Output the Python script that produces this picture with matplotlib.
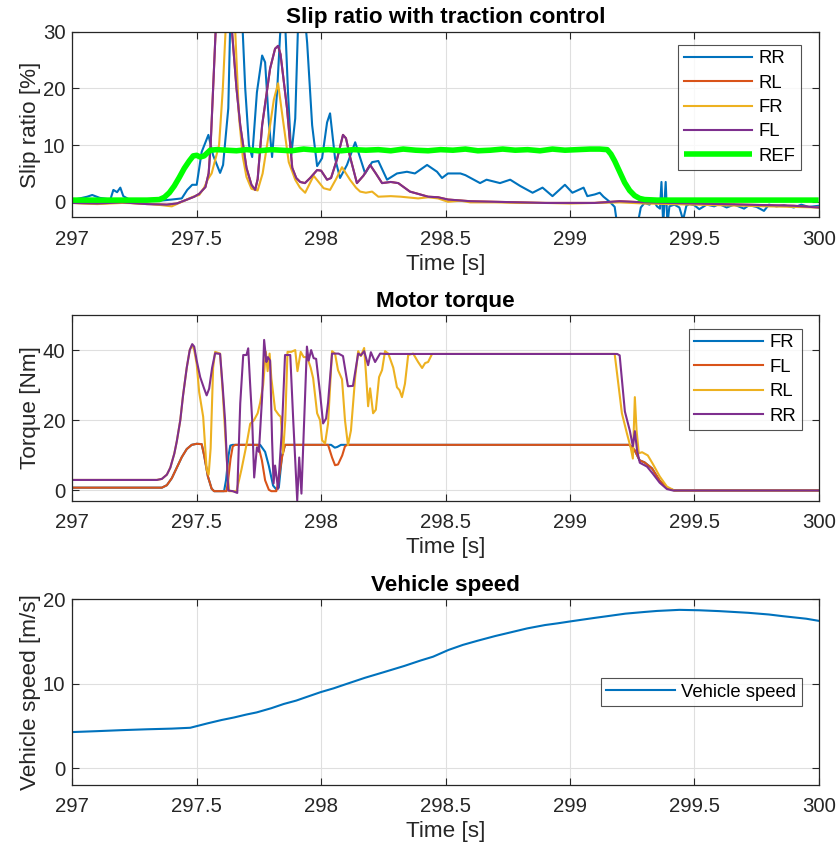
import numpy as np
import matplotlib
matplotlib.use("Agg")
import matplotlib.pyplot as plt

plt.rcParams['font.family'] = ['Liberation Sans', 'DejaVu Sans']

C_BLUE = '#0072BD'
C_ORANGE = '#D95319'
C_YELLOW = '#EDB120'
C_PURPLE = '#7E2F8E'
C_GREEN = '#00FF00'
C_AX = '#262626'

# ---------------- data: slip ratio [%] ----------------
rr_slip = [(297.0, 0.3), (297.03, 0.6), (297.06, 0.9), (297.08, 1.2), (297.11, 0.7), (297.153, 0.4),
           (297.165, 2.1), (297.18, 1.7), (297.193, 2.5), (297.205, 1.0), (297.233, 0.3), (297.28, 0.1),
           (297.353, 0.2), (297.40, 0.4), (297.44, 0.6), (297.462, 2.1), (297.482, 3.0), (297.50, 3.0),
           (297.52, 8.8), (297.547, 11.8), (297.566, 8.2), (297.594, 5.1), (297.606, 6.5), (297.627, 16.5),
           (297.635, 32), (297.66, 40), (297.683, 32), (297.695, 20), (297.71, 10), (297.723, 7.9),
           (297.742, 19.3), (297.763, 25.8), (297.775, 24.6), (297.79, 14), (297.803, 7.9), (297.823, 19.3),
           (297.835, 29.3), (297.845, 35), (297.857, 30), (297.867, 19.3), (297.88, 8.2), (297.896, 14.7),
           (297.91, 35), (297.93, 35), (297.944, 28), (297.964, 13.5), (297.984, 6.3), (298.004, 7.7),
           (298.024, 14), (298.036, 15.6), (298.056, 7.7), (298.076, 4.2), (298.104, 6.5), (298.137, 10.5),
           (298.177, 5.0), (298.205, 7.0), (298.23, 7.2), (298.265, 3.9), (298.305, 5.0), (298.345, 5.3),
           (298.377, 5.0), (298.426, 6.5), (298.466, 5.3), (298.486, 4.2), (298.51, 5.0), (298.56, 5.0),
           (298.58, 4.7), (298.639, 3.3), (298.665, 3.9), (298.719, 3.3), (298.76, 3.9), (298.8, 2.8),
           (298.85, 1.6), (298.89, 2.5), (298.93, 1.0), (298.98, 3.0), (299.01, 1.6), (299.055, 2.5),
           (299.07, 1.0), (299.1, 1.3), (299.12, 1.6), (299.135, 0.9), (299.16, 0.0), (299.18, -0.9),
           (299.19, -4), (299.21, -6), (299.25, -6), (299.272, -4), (299.285, -1.0), (299.30, -0.2),
           (299.32, -0.5), (299.335, 0.3), (299.35, -0.8), (299.362, -1.2), (299.368, 3.5), (299.375, -4),
           (299.385, 3.5), (299.392, -4), (299.40, -0.8), (299.42, -0.5), (299.44, -1.0), (299.455, -3.2),
           (299.468, -0.7), (299.48, -0.4), (299.5, -0.6), (299.52, -1.3), (299.55, -0.5), (299.58, -0.8),
           (299.6, -0.4), (299.63, -1.0), (299.66, -0.5), (299.7, -1.2), (299.72, -0.6), (299.75, -0.9),
           (299.78, -1.6), (299.8, -0.5), (299.83, -0.8), (299.86, -0.6), (299.9, -1.0), (299.93, -0.5),
           (299.96, -0.9), (300.0, -0.7)]

fl_slip = [(297.0, -0.2), (297.1, -0.3), (297.2, -0.1), (297.3, -0.4), (297.38, -0.5), (297.42, -0.3),
           (297.45, 0.2), (297.49, 0.9), (297.51, 1.4), (297.535, 2.6), (297.548, 5), (297.556, 10),
           (297.566, 20), (297.578, 32), (297.59, 45), (297.63, 45), (297.642, 30), (297.66, 20),
           (297.675, 13.5), (297.70, 6), (297.72, 3), (297.735, 2.1), (297.745, 4), (297.763, 13.5),
           (297.795, 23.5), (297.815, 27), (297.827, 27.5), (297.837, 26), (297.863, 16.5), (297.884, 6),
           (297.9, 4.2), (297.916, 3.5), (297.935, 3.3), (297.956, 4.2), (297.984, 5.6), (298.0, 5.5),
           (298.024, 3.9), (298.04, 4.2), (298.064, 7.5), (298.088, 11.8), (298.1, 11.2), (298.116, 8),
           (298.144, 3.3), (298.17, 4.6), (298.197, 6.5), (298.22, 5), (298.245, 3.3), (298.28, 3.5),
           (298.31, 3.3), (298.357, 1.8), (298.39, 1.4), (298.43, 0.9), (298.47, 0.8), (298.51, 0.4),
           (298.6, 0.1), (298.7, 0.0), (298.8, -0.1), (298.9, -0.2), (299.0, -0.2), (299.1, -0.2),
           (299.2, 0.1), (299.3, -0.1), (299.4, -0.2), (299.5, -0.3), (299.6, -0.4), (299.7, -0.5),
           (299.8, -0.6), (299.9, -0.7), (300.0, -1.0)]

# RL slip is hidden beneath the FL trace in the picture
rl_slip = list(fl_slip)

fr_slip = [(297.0, -0.2), (297.1, -0.4), (297.2, -0.2), (297.3, -0.3), (297.36, -0.6), (297.40, -0.8),
           (297.43, -0.2), (297.46, 0.4), (297.486, 0.9), (297.51, 1.2), (297.53, 2.5), (297.545, 4.0),
           (297.56, 5), (297.59, 10), (297.605, 20), (297.618, 32), (297.625, 42), (297.645, 42),
           (297.655, 30), (297.67, 15), (297.685, 8), (297.70, 4.4), (297.72, 2.3), (297.745, 2.0),
           (297.765, 5), (297.79, 12), (297.81, 18), (297.827, 20.9), (297.845, 15), (297.87, 7),
           (297.896, 3.9), (297.915, 2.5), (297.936, 1.6), (297.97, 4.6), (297.99, 3.5), (298.01, 2.4),
           (298.036, 2.1), (298.06, 4), (298.084, 6.1), (298.1, 5), (298.116, 3.9), (298.14, 2.5),
           (298.157, 1.8), (298.18, 1.6), (298.205, 1.8), (298.23, 0.9), (298.28, 1.0), (298.32, 0.9),
           (298.39, 0.6), (298.43, 0.8), (298.47, 0.6), (298.51, 0.0), (298.56, 0.2), (298.6, -0.1),
           (298.7, -0.1), (298.8, -0.2), (298.9, -0.2), (299.0, -0.3), (299.1, -0.2), (299.2, -0.1),
           (299.3, -0.3), (299.4, -0.4), (299.5, -0.5), (299.6, -0.6), (299.7, -0.7), (299.8, -0.8),
           (299.9, -0.9), (300.0, -1.0)]

ref_slip = [(297.0, 0.3), (297.3, 0.3), (297.35, 0.4), (297.37, 0.8), (297.39, 1.6), (297.41, 2.8),
            (297.43, 4.3), (297.45, 5.9), (297.47, 7.2), (297.486, 8.1), (297.50, 8.2), (297.514, 7.9),
            (297.53, 8.1), (297.554, 9.1), (297.58, 9.2), (297.62, 9.1), (297.66, 9.0), (297.70, 9.2),
            (297.75, 9.0), (297.80, 9.2), (297.84, 9.1), (297.88, 9.0), (297.93, 9.3), (297.98, 9.1),
            (298.03, 9.2), (298.08, 9.0), (298.13, 9.2), (298.18, 9.1), (298.23, 9.2), (298.28, 9.0),
            (298.33, 9.3), (298.38, 9.1), (298.43, 9.0), (298.48, 9.2), (298.53, 9.1), (298.58, 9.3),
            (298.63, 9.0), (298.68, 9.1), (298.73, 9.3), (298.78, 9.1), (298.83, 9.2), (298.88, 9.0),
            (298.93, 9.3), (298.98, 9.1), (299.03, 9.2), (299.08, 9.3), (299.12, 9.3), (299.15, 9.2),
            (299.165, 8.4), (299.18, 7.2), (299.20, 5.3), (299.22, 3.4), (299.24, 2.0), (299.26, 1.1),
            (299.28, 0.6), (299.30, 0.4), (299.35, 0.3), (300.0, 0.3)]

# ---------------- data: motor torque [Nm] ----------------
fr_torque = [(297.0, 0.8), (297.36, 0.8), (297.38, 1.5), (297.40, 3.5), (297.42, 6.5), (297.44, 9.5),
             (297.46, 11.8), (297.48, 13.0), (297.50, 13.3), (297.52, 13.2), (297.53, 10), (297.545, 4),
             (297.56, 0.5), (297.57, -0.2), (297.61, -0.2), (297.618, 3), (297.628, 10), (297.635, 12.8),
             (297.645, 13.0), (297.755, 13.0), (297.775, 11), (297.79, 7), (297.807, 1.4), (297.82, 0.3),
             (297.83, 0.8), (297.843, 10), (297.855, 13), (298.04, 13), (298.055, 12.2), (298.065, 12.4),
             (298.08, 13), (299.24, 13), (299.26, 11.5), (299.28, 8.6), (299.30, 8), (299.33, 6.3),
             (299.36, 2.9), (299.39, 0.7), (299.42, 0.0), (300.0, 0.0)]

fl_torque = [(297.0, 0.8), (297.36, 0.8), (297.38, 1.5), (297.40, 3.5), (297.42, 6.5), (297.44, 9.5),
             (297.46, 11.8), (297.48, 13.0), (297.50, 13.3), (297.52, 13.2), (297.53, 10), (297.545, 4),
             (297.56, 0.5), (297.57, -0.2), (297.62, -0.2), (297.628, 4), (297.636, 9), (297.645, 12.6),
             (297.655, 13.0), (297.747, 13), (297.762, 8.6), (297.775, 2.9), (297.79, 0.2), (297.80, -0.2),
             (297.82, -0.2), (297.827, 2), (297.843, 9.5), (297.855, 13), (298.028, 13), (298.044, 9.4),
             (298.056, 7.2), (298.068, 7.4), (298.085, 10), (298.096, 12.6), (298.105, 13), (299.24, 13),
             (299.26, 11.5), (299.28, 8.6), (299.30, 8), (299.33, 6.3), (299.36, 2.9), (299.39, 0.7),
             (299.42, 0.0), (300.0, 0.0)]

rl_torque = [(297.0, 3), (297.34, 3), (297.36, 3.3), (297.38, 4.5), (297.394, 6.5), (297.41, 10.5),
             (297.42, 14), (297.434, 20), (297.445, 27), (297.46, 35), (297.472, 40), (297.482, 41.5),
             (297.49, 40), (297.50, 36), (297.51, 28), (297.526, 21), (297.54, 6), (297.548, 4.5),
             (297.556, 12), (297.566, 35), (297.574, 39.5), (297.594, 39), (297.605, 27.6), (297.618, 12),
             (297.63, -0.2), (297.66, -0.2), (297.68, 6), (297.70, 13), (297.715, 19), (297.73, 20),
             (297.745, 22), (297.755, 25), (297.767, 30), (297.778, 39.5), (297.785, 34), (297.793, 39),
             (297.80, 32), (297.815, 23), (297.83, 21.5), (297.838, 21), (297.847, 10.6), (297.856, 20),
             (297.865, 39.5), (297.88, 39.5), (297.896, 40), (297.905, 34), (297.918, 39.5), (297.93, 38),
             (297.944, 38), (297.958, 35), (297.968, 32), (297.984, 22), (297.996, 20), (298.004, 14.3),
             (298.016, 13.4), (298.028, 19.1), (298.044, 39.7), (298.056, 39), (298.068, 34.3),
             (298.084, 31.7), (298.096, 20), (298.108, 12.9), (298.12, 17.1), (298.137, 32.3),
             (298.149, 39.7), (298.16, 38.3), (298.173, 40.6), (298.18, 33.7), (298.189, 24),
             (298.197, 29.1), (298.209, 22), (298.22, 23), (298.233, 32.3), (298.245, 34.3),
             (298.257, 39.7), (298.27, 39), (298.29, 35), (298.305, 29.4), (298.315, 28.6),
             (298.325, 26.6), (298.337, 30.4), (298.35, 38.6), (298.37, 39), (298.39, 36.6),
             (298.406, 34.9), (298.418, 36.3), (298.43, 36.6), (298.446, 38.9), (298.46, 38.9),
             (299.18, 38.9), (299.209, 22), (299.229, 16.3), (299.245, 12), (299.253, 9.1),
             (299.261, 26.6), (299.268, 17.1), (299.277, 10.6), (299.29, 10.9), (299.313, 10.0),
             (299.333, 7.6), (299.361, 4.0), (299.39, 1.1), (299.42, 0.0), (300.0, 0.0)]

rr_torque = [(297.0, 3), (297.34, 3), (297.36, 3.3), (297.38, 4.5), (297.394, 6.5), (297.41, 10.5),
             (297.42, 14), (297.434, 20), (297.445, 27), (297.46, 35), (297.472, 40), (297.482, 41.7),
             (297.49, 41), (297.50, 37), (297.514, 32.3), (297.53, 29), (297.54, 27.1), (297.55, 29),
             (297.562, 35), (297.574, 39.1), (297.594, 38.9), (297.604, 30), (297.614, 20), (297.627, 0),
             (297.645, -0.2), (297.663, -0.7), (297.675, 24.8), (297.687, 38.6), (297.70, 38.6),
             (297.707, 40.5), (297.715, 30), (297.723, 20), (297.731, 3.7), (297.742, 12.3), (297.75, 11),
             (297.763, 26.7), (297.771, 42.9), (297.78, 36.6), (297.786, 38), (297.795, 37), (297.803, 14.3),
             (297.809, 2), (297.815, 7.1), (297.827, 0.5), (297.843, 18), (297.855, 38.6), (297.876, 38.6),
             (297.888, 20), (297.904, -2.9), (297.912, 9.4), (297.921, -0.9), (297.932, 20), (297.943, 41),
             (297.95, 37), (297.96, 40), (297.97, 37.7), (297.98, 37.5), (297.996, 27.6), (298.008, 19.1),
             (298.02, 20.5), (298.028, 25), (298.044, 39), (298.07, 39), (298.088, 38.3), (298.108, 29.7),
             (298.128, 29.8), (298.149, 39), (298.16, 38.5), (298.173, 39.7), (298.189, 35.7), (298.2, 39.4),
             (298.217, 36.6), (298.237, 39), (298.26, 38.9), (299.19, 38.9), (299.20, 38.5), (299.221, 22.5),
             (299.241, 17), (299.253, 12.6), (299.261, 16.9), (299.27, 11.4), (299.281, 7.9), (299.31, 6.8),
             (299.333, 4.8), (299.361, 2.2), (299.39, 0.4), (299.414, 0.0), (300.0, 0.0)]

# ---------------- data: vehicle speed [m/s] ----------------
speed = [(297.0, 4.27), (297.1, 4.38), (297.2, 4.5), (297.3, 4.6), (297.4, 4.68), (297.474, 4.78),
         (297.543, 5.3), (297.6, 5.7), (297.65, 6.0), (297.7, 6.35), (297.741, 6.6), (297.8, 7.1),
         (297.85, 7.6), (297.9, 8.0), (297.939, 8.4), (297.998, 9.0), (298.05, 9.45), (298.1, 9.95),
         (298.176, 10.7), (298.25, 11.35), (298.334, 12.1), (298.4, 12.75), (298.45, 13.2),
         (298.512, 14.0), (298.57, 14.6), (298.63, 15.1), (298.7, 15.65), (298.75, 16.0),
         (298.828, 16.55), (298.9, 16.95), (298.95, 17.15), (299.006, 17.4), (299.1, 17.8),
         (299.15, 18.0), (299.223, 18.3), (299.3, 18.5), (299.35, 18.62), (299.44, 18.75),
         (299.52, 18.7), (299.6, 18.6), (299.717, 18.4), (299.8, 18.2), (299.856, 18.0),
         (299.95, 17.7), (300.0, 17.45)]

xticks = [297, 297.5, 298, 298.5, 299, 299.5, 300]
xticklabels = ['297', '297.5', '298', '298.5', '299', '299.5', '300']


def xy(pairs):
    a = np.array(pairs, dtype=float)
    return a[:, 0], a[:, 1]


W, H = 839, 850
fig = plt.figure(figsize=(W / 100, H / 100), dpi=100)

left = 72.3 / W
width = 746.4 / W
ax1 = fig.add_axes([left, (H - 217.4) / H, width, 185.7 / H])
ax2 = fig.add_axes([left, (H - 501.0) / H, width, 186.0 / H])
ax3 = fig.add_axes([left, (H - 785.0) / H, width, 185.7 / H])

TICK_FS = 14.7
LAB_FS = 16.2
LEG_FS = 13.3
LW = 1.5


def style(ax, ylim, yticks):
    ax.set_xlim(297, 300)
    ax.set_ylim(*ylim)
    ax.set_xticks(xticks)
    ax.set_xticklabels(xticklabels)
    ax.set_yticks(yticks)
    ax.grid(True, color='#dfdfdf', linewidth=0.8)
    ax.set_axisbelow(True)
    ax.tick_params(direction='in', top=True, right=True, length=5, width=0.8,
                   colors=C_AX, labelsize=TICK_FS)
    ax.tick_params(axis='x', pad=9)
    ax.tick_params(axis='y', pad=5)
    for s in ax.spines.values():
        s.set_color(C_AX)
        s.set_linewidth(0.9)
    ax.set_xlabel('Time [s]', fontsize=LAB_FS, color=C_AX, labelpad=3.5)


# --- slip ratio ---
for pairs, col, lab in [(rr_slip, C_BLUE, 'RR'), (rl_slip, C_ORANGE, 'RL'),
                        (fr_slip, C_YELLOW, 'FR'), (fl_slip, C_PURPLE, 'FL')]:
    t, v = xy(pairs)
    ax1.plot(t, v, color=col, lw=LW, label=lab)
t, v = xy(ref_slip)
ax1.plot(t, v, color=C_GREEN, lw=4.0, label='REF', solid_capstyle='butt')
style(ax1, (-2.75, 30), [0, 10, 20, 30])
ax1.set_ylabel('Slip ratio [%]', fontsize=LAB_FS, color=C_AX, labelpad=1.5)
ax1.set_title('Slip ratio with traction control', fontsize=LAB_FS, fontweight='bold',
              color='black', pad=6)

# --- motor torque ---
for pairs, col, lab in [(fr_torque, C_BLUE, 'FR'), (fl_torque, C_ORANGE, 'FL'),
                        (rl_torque, C_YELLOW, 'RL'), (rr_torque, C_PURPLE, 'RR')]:
    t, v = xy(pairs)
    ax2.plot(t, v, color=col, lw=LW, label=lab)
style(ax2, (-3, 50), [0, 20, 40])
ax2.set_ylabel('Torque [Nm]', fontsize=LAB_FS, color=C_AX, labelpad=1.5)
ax2.set_title('Motor torque', fontsize=LAB_FS, fontweight='bold', color='black', pad=6)

# --- vehicle speed ---
t, v = xy(speed)
ax3.plot(t, v, color=C_BLUE, lw=LW, label='Vehicle speed')
style(ax3, (-2, 20), [0, 10, 20])
ax3.set_ylabel('Vehicle speed [m/s]', fontsize=LAB_FS, color=C_AX, labelpad=1.5)
ax3.set_title('Vehicle speed', fontsize=LAB_FS, fontweight='bold', color='black', pad=6)

leg_kw = dict(fontsize=LEG_FS, frameon=True, fancybox=False, borderaxespad=0.0,
              handlelength=3.7, handletextpad=0.35, borderpad=0.3, labelspacing=0.4)
for ax, loc, anchor in [(ax1, 'upper right', (0.9763, 0.930)),
                        (ax2, 'upper right', (0.977, 0.925)),
                        (ax3, 'center right', (0.977, 0.5))]:
    lg = ax.legend(loc=loc, bbox_to_anchor=anchor, **leg_kw)
    lg.get_frame().set_edgecolor(C_AX)
    lg.get_frame().set_linewidth(0.8)
    for txt in lg.get_texts():
        txt.set_color('black')

fig.savefig('out.png', dpi=100)
